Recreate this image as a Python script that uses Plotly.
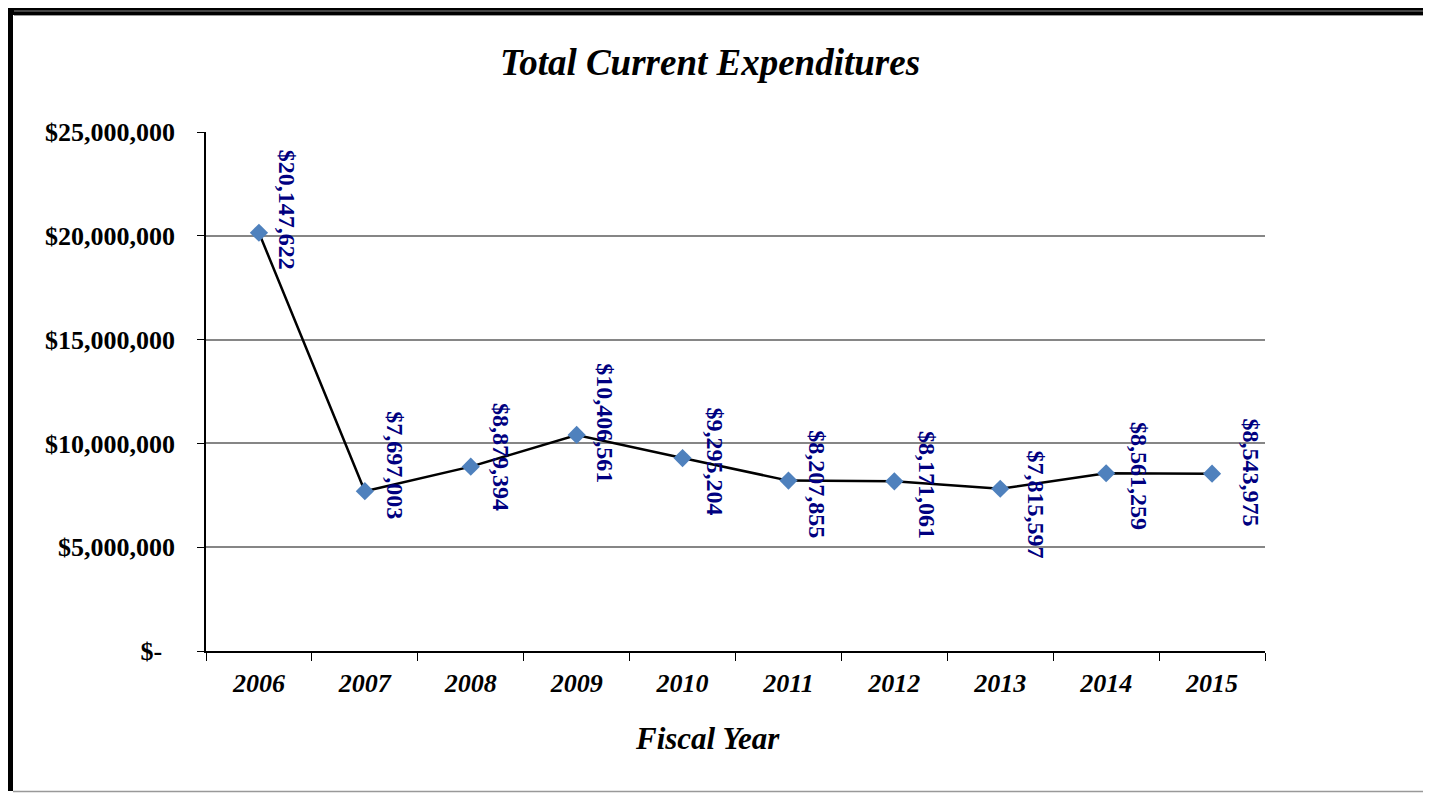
import plotly.graph_objects as go

years = ["2006", "2007", "2008", "2009", "2010", "2011", "2012", "2013", "2014", "2015"]
expenditures = [20147622, 7697003, 8879394, 10406561, 9295204, 8207855, 8171061, 7815597, 8561259, 8543975]
y_tickvals = [0, 5000000, 10000000, 15000000, 20000000, 25000000]
y_ticktext = ["$-  ", "$5,000,000", "$10,000,000", "$15,000,000", "$20,000,000", "$25,000,000"]

label_dx = [17, 19, 20, 17, 21, 18, 21, 25, 22, 28]
label_dy = [23, 26, 10, 12, -3, -4, -4, -16, -3, 1]

OFF = 8  # page body margin
W, H = 1431, 793
L, R, T, B = 206 - OFF, 1265 - OFF, 132 - OFF, 651 - OFF

def px(x):
    return (x - OFF - L) / (R - L)

def py(y):
    return (B - (y - OFF)) / (B - T)

fig = go.Figure()
fig.add_trace(go.Scatter(
    x=years, y=expenditures, mode="lines+markers",
    line=dict(color="black", width=2.5),
    marker=dict(symbol="diamond", size=14, color="#4F81BD"),
    hoverinfo="skip", showlegend=False,
))

annots = []
for i, (v, dx, dy) in enumerate(zip(expenditures, label_dx, label_dy)):
    annots.append(dict(
        x=i, y=v, xref="x", yref="y", text="<b>${:,}</b>".format(v), showarrow=False, textangle=90,
        xanchor="left", yanchor="middle", xshift=dx - 4, yshift=dy,
        font=dict(family="Liberation Serif", size=24, color="#000080", weight="bold"),
    ))
annots.append(dict(
    x=px(707), y=py(738), xref="paper", yref="paper", text="<i>Fiscal Year</i>", showarrow=False,
    xanchor="center", yanchor="middle",
    font=dict(family="Liberation Serif", size=31, color="black", weight="bold"),
))

shapes = [
    dict(type="rect", xref="paper", yref="paper", x0=px(7), x1=px(1440), y0=py(7), y1=py(15),
         fillcolor="black", line=dict(width=0), layer="above"),
    dict(type="line", xref="paper", yref="paper", x0=px(14), x1=px(1440), y0=py(11), y1=py(11),
         line=dict(color="#888888", width=1), layer="above"),
    dict(type="line", xref="paper", yref="paper", x0=px(14), x1=px(1440), y0=py(15.5), y1=py(15.5),
         line=dict(color="#999999", width=1), layer="above"),
    dict(type="rect", xref="paper", yref="paper", x0=px(7), x1=px(13), y0=py(7), y1=py(791),
         fillcolor="black", line=dict(width=0), layer="above"),
    dict(type="line", xref="paper", yref="paper", x0=px(13), x1=px(1440), y0=py(791.5), y1=py(791.5),
         line=dict(color="#999999", width=1.5), layer="above"),
]

fig.update_layout(
    width=W, height=H,
    margin=dict(l=L, r=W - R, t=T, b=H - B, autoexpand=False),
    paper_bgcolor="white", plot_bgcolor="white",
    shapes=shapes,
    annotations=annots,
    title=dict(text="<i>Total Current Expenditures</i>", x=px(710), xref="paper", xanchor="center",
               y=1 - (62 - OFF) / H, yanchor="middle",
               font=dict(family="Liberation Serif", size=37, color="black", weight="bold")),
    xaxis=dict(
        type="category", range=[-0.5, 9.5], showline=True, linecolor="black", linewidth=1.5,
        ticks="outside", tickson="boundaries", ticklen=8, tickcolor="black", tickwidth=1,
        showgrid=False, tickfont=dict(family="Liberation Serif", size=26, color="black", style="italic", weight="bold"),
        ticklabelstandoff=8,
    ),
    yaxis=dict(
        range=[0, 25000000], tickvals=y_tickvals, ticktext=y_ticktext,
        showline=True, linecolor="black", linewidth=1.5,
        ticks="outside", ticklen=7, tickcolor="black", tickwidth=1,
        showgrid=True, gridcolor="#868686", gridwidth=1.5, zeroline=False,
        tickfont=dict(family="Liberation Serif", size=26, color="black", weight="bold"),
        ticklabelstandoff=17,
    ),
)

fig.write_html("out.html")
